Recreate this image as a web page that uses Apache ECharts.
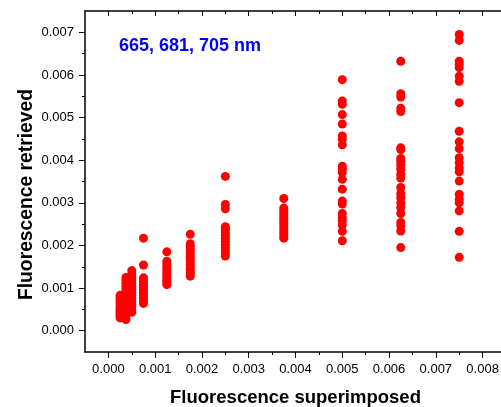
<!DOCTYPE html>
<html>
<head>
<meta charset="utf-8">
<title>Fluorescence retrieved vs superimposed</title>
<script src="https://cdn.jsdelivr.net/npm/echarts@6/dist/echarts.min.js"></script>
<style>
  html, body { margin: 0; padding: 0; background: #ffffff; }
  #chart { width: 501px; height: 407px; }
</style>
</head>
<body>
<div id="chart"></div>
<script>
// Superimposed fluorescence levels (x) and the retrieved values at each level (y)
const superimposed = [0.00025, 0.000375, 0.0005, 0.00075, 0.00125, 0.00175, 0.0025, 0.00375, 0.005, 0.00625, 0.0075];

const retrievedAt00025 = [0.00083, 0.00078, 0.00073, 0.00068, 0.00063, 0.00058, 0.00053, 0.00048, 0.00044, 0.00040, 0.00035, 0.00030];
const retrievedAt000375 = [0.00125, 0.00118, 0.00111, 0.00104, 0.00097, 0.00091, 0.00085, 0.00079, 0.00073, 0.00067, 0.00061, 0.00055, 0.00049, 0.00043, 0.00038, 0.00032, 0.00026];
const retrievedAt0005 = [0.00141, 0.00133, 0.00125, 0.00118, 0.00111, 0.00104, 0.00097, 0.00090, 0.00083, 0.00076, 0.00069, 0.00062, 0.00056, 0.00049, 0.00043];
const retrievedAt00075 = [0.00217, 0.00154, 0.00124, 0.00118, 0.00112, 0.00106, 0.00100, 0.00094, 0.00088, 0.00082, 0.00076, 0.00070, 0.00064];
const retrievedAt00125 = [0.00185, 0.00163, 0.00157, 0.00151, 0.00146, 0.00140, 0.00134, 0.00129, 0.00123, 0.00118, 0.00113, 0.00108];
const retrievedAt00175 = [0.00226, 0.00204, 0.00198, 0.00192, 0.00186, 0.00180, 0.00174, 0.00168, 0.00162, 0.00156, 0.00150, 0.00144, 0.00138, 0.00133, 0.00128];
const retrievedAt0025 = [0.00362, 0.00296, 0.00286, 0.00244, 0.00238, 0.00231, 0.00224, 0.00217, 0.00210, 0.00203, 0.00196, 0.00189, 0.00182, 0.00175];
const retrievedAt00375 = [0.00310, 0.00288, 0.00282, 0.00276, 0.00270, 0.00264, 0.00258, 0.00252, 0.00246, 0.00240, 0.00234, 0.00228, 0.00222, 0.00217];
const retrievedAt0050 = [0.00589, 0.00539, 0.00531, 0.00507, 0.00485, 0.00457, 0.00449, 0.00436, 0.00386, 0.00379, 0.00371, 0.00355, 0.00332, 0.00304, 0.00297, 0.00275, 0.00265, 0.00258, 0.00248, 0.00233, 0.00211];
const retrievedAt00625 = [0.00632, 0.00556, 0.00548, 0.00522, 0.00514, 0.00429, 0.00425, 0.00404, 0.00397, 0.00389, 0.00379, 0.00367, 0.00358, 0.00336, 0.00322, 0.00312, 0.00300, 0.00289, 0.00275, 0.00254, 0.00246, 0.00234, 0.00195];
const retrievedAt0075 = [0.00695, 0.00681, 0.00632, 0.00625, 0.00617, 0.00597, 0.00585, 0.00535, 0.00468, 0.00443, 0.00427, 0.00406, 0.00394, 0.00382, 0.00373, 0.00351, 0.00320, 0.00308, 0.00300, 0.00281, 0.00233, 0.00172];

const retrievedColumns = [retrievedAt00025, retrievedAt000375, retrievedAt0005, retrievedAt00075, retrievedAt00125,
  retrievedAt00175, retrievedAt0025, retrievedAt00375, retrievedAt0050, retrievedAt00625, retrievedAt0075];

// Tick positions
const xMajorTicks = [0, 0.001, 0.002, 0.003, 0.004, 0.005, 0.006, 0.007, 0.008];
const xMinorTicks = [0.0005, 0.0015, 0.0025, 0.0035, 0.0045, 0.0055, 0.0065, 0.0075];
const yMajorTicks = [0, 0.001, 0.002, 0.003, 0.004, 0.005, 0.006, 0.007];
const yMinorTicks = [0.0005, 0.0015, 0.0025, 0.0035, 0.0045, 0.0055, 0.0065];

const points = [];
superimposed.forEach((x, i) => {
  retrievedColumns[i].forEach(y => points.push([x, y]));
});

const FONT = '"Liberation Sans", Arial, Helvetica, sans-serif';
const X_RANGE = { min: -0.0005, max: 0.0085 };
const Y_RANGE = { min: -0.0005, max: 0.0075 };

// One axis per tick set: lines sit on the frame edges, never on the zero lines
function tickAxis(base, position, values, len, inside, line, labels) {
  return Object.assign({
    type: 'value',
    position: position,
    splitLine: { show: false },
    axisLine: { show: line, onZero: false, lineStyle: { color: '#000', width: 1.5 } },
    axisTick: { show: true, customValues: values, length: len, inside: inside,
                lineStyle: { color: '#000', width: 1 } },
    axisLabel: labels
      ? { show: true, customValues: values, fontSize: 13, color: '#000', fontFamily: FONT, margin: 11,
          formatter: v => v.toFixed(3) }
      : { show: false }
  }, base);
}

const chart = echarts.init(document.getElementById('chart'), null, { renderer: 'canvas' });

chart.setOption({
  animation: false,
  backgroundColor: '#ffffff',
  grid: { left: 85, top: 11, width: 421, height: 341, outerBoundsMode: 'none', containLabel: false },
  xAxis: [
    tickAxis(Object.assign({
      name: 'Fluorescence superimposed', nameLocation: 'middle', nameGap: 36, nameMoveOverlap: false,
      nameTextStyle: { fontSize: 18.5, fontWeight: 'bold', color: '#000', fontFamily: FONT }
    }, X_RANGE), 'bottom', xMajorTicks, 6, false, true, true),
    tickAxis(Object.assign({}, X_RANGE), 'bottom', xMinorTicks, 3, false, false, false),
    tickAxis(Object.assign({}, X_RANGE), 'top', xMajorTicks, 5, true, true, false),
    tickAxis(Object.assign({}, X_RANGE), 'top', xMinorTicks, 3, true, false, false)
  ],
  yAxis: [
    tickAxis(Object.assign({
      name: 'Fluorescence retrieved', nameLocation: 'middle', nameGap: 49, nameMoveOverlap: false,
      nameTextStyle: { fontSize: 19.3, fontWeight: 'bold', color: '#000', fontFamily: FONT,
                       padding: [0, 26, 0, 0] }
    }, Y_RANGE), 'left', yMajorTicks, 6, false, true, true),
    tickAxis(Object.assign({}, Y_RANGE), 'left', yMinorTicks, 3, false, false, false),
    tickAxis(Object.assign({}, Y_RANGE), 'right', yMajorTicks, 5, true, true, false),
    tickAxis(Object.assign({}, Y_RANGE), 'right', yMinorTicks, 3, true, false, false)
  ],
  graphic: [{
    type: 'text',
    x: 119, y: 46,
    style: {
      text: '665, 681, 705 nm',
      fill: '#0000ff',
      font: 'bold 18px ' + FONT,
      textVerticalAlign: 'middle'
    }
  }],
  series: [{
    type: 'scatter',
    xAxisIndex: 0,
    yAxisIndex: 0,
    data: points,
    symbol: 'circle',
    symbolSize: 9,
    itemStyle: { color: '#ff0000', opacity: 1 },
    emphasis: { disabled: true }
  }]
});
</script>
</body>
</html>
